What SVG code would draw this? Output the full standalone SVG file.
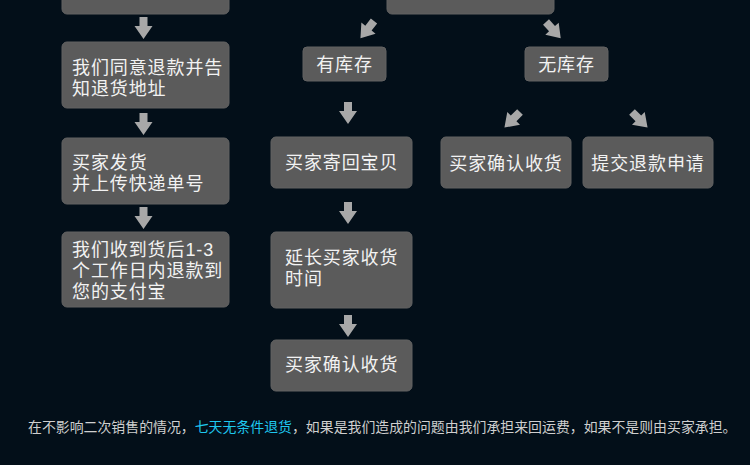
<svg xmlns="http://www.w3.org/2000/svg" width="750" height="465" viewBox="0 0 750 465">
<defs>
<style>
.box{fill:#5b5b5b;stroke:#636363;stroke-width:1}
.t{font-family:"Liberation Sans","Noto Sans CJK SC",sans-serif;font-size:18px;letter-spacing:0.9px;fill:#f2f2f2}
.c{text-anchor:middle}
.arr{fill:#a8a8a8}
.foot{font-family:"Liberation Sans","Noto Sans CJK SC",sans-serif;font-size:13.9px;fill:#cfcfcf}
</style>
<path id="a" d="M-4,0 H4 V9 H9 L0,22 L-9,9 H-4 Z"/>
</defs>
<rect width="750" height="465" fill="#030f19"/>

<g id="n0"><rect class="box" x="62" y="-10" width="167" height="24" rx="5"/></g>
<g id="n1"><rect class="box" x="62" y="42" width="167" height="66" rx="5"/>
<text class="t" x="72" y="74">我们同意退款并告</text><text class="t" x="72" y="95">知退货地址</text></g>
<g id="n2"><rect class="box" x="62" y="138" width="167" height="66" rx="5"/>
<text class="t" x="72" y="169">买家发货</text><text class="t" x="72" y="190">并上传快递单号</text></g>
<g id="n3"><rect class="box" x="62" y="232" width="167" height="75" rx="5"/>
<text class="t" x="72" y="256">我们收到货后1-3</text><text class="t" x="72" y="277">个工作日内退款到</text><text class="t" x="72" y="298">您的支付宝</text></g>

<g id="c0"><rect class="box" x="387" y="-10" width="167" height="24" rx="5"/></g>
<g id="c1"><rect class="box" x="303" y="47" width="83" height="34" rx="4"/>
<text class="t c" x="344.5" y="71">有库存</text></g>
<g id="c2"><rect class="box" x="525" y="47" width="83" height="34" rx="4"/>
<text class="t c" x="566.5" y="71">无库存</text></g>
<g id="c3"><rect class="box" x="271" y="137" width="141" height="51" rx="5"/>
<text class="t" x="285" y="169">买家寄回宝贝</text></g>
<g id="c4"><rect class="box" x="271" y="232" width="141" height="76" rx="5"/>
<text class="t" x="285" y="264">延长买家收货</text><text class="t" x="285" y="285">时间</text></g>
<g id="c5"><rect class="box" x="271" y="340" width="141" height="51" rx="5"/>
<text class="t" x="285" y="371">买家确认收货</text></g>
<g id="r1"><rect class="box" x="441" y="137" width="130" height="51" rx="5"/>
<text class="t c" x="506" y="170">买家确认收货</text></g>
<g id="r2"><rect class="box" x="583" y="137" width="130" height="51" rx="5"/>
<text class="t c" x="648" y="170">提交退款申请</text></g>

<g id="connectors" class="arr">
<use href="#a" transform="translate(143.5,17)"/>
<use href="#a" transform="translate(143.5,113)"/>
<use href="#a" transform="translate(143.5,207)"/>
<use href="#a" transform="translate(348,102)"/>
<use href="#a" transform="translate(348,202)"/>
<use href="#a" transform="translate(348,315)"/>
<use href="#a" transform="translate(374,21) rotate(38)"/>
<use href="#a" transform="translate(546,22) rotate(-42)"/>
<use href="#a" transform="translate(520,112) rotate(45)"/>
<use href="#a" transform="translate(632,112) rotate(-45)"/>
</g>

<text class="foot" x="28" y="432">在不影响二次销售的情况，<tspan fill="#1ec8ef">七天无条件退货</tspan>，如果是我们造成的问题由我们承担来回运费，如果不是则由买家承担。</text>
</svg>
